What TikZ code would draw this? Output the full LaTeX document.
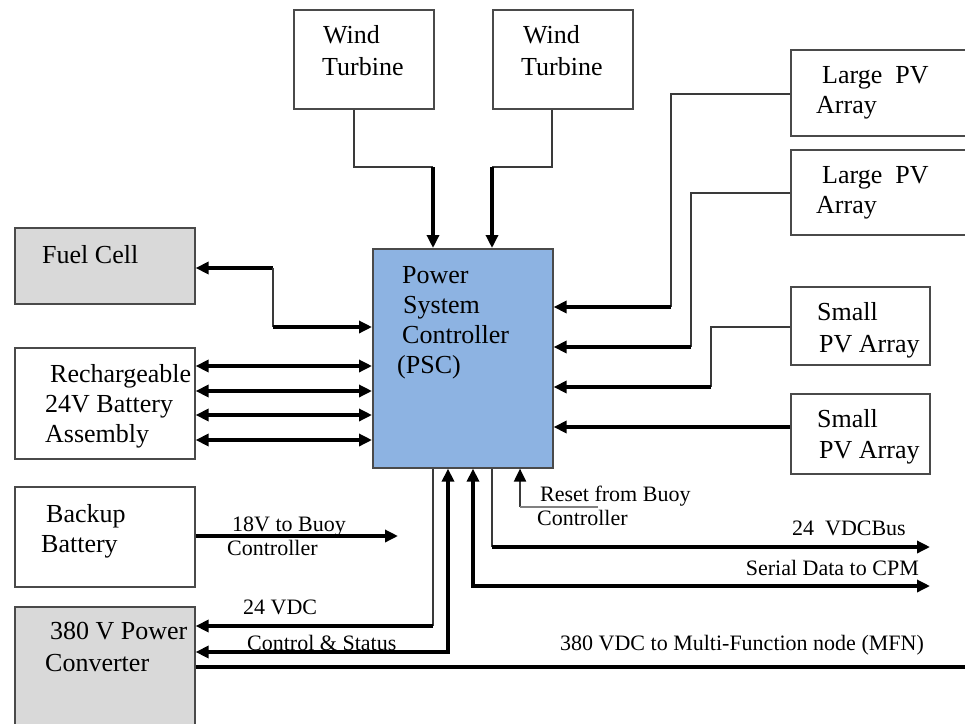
\documentclass[tikz,border=0pt]{standalone}
\usepackage{fontspec}
\setmainfont{Liberation Serif}
\usetikzlibrary{arrows.meta}
\definecolor{pscblue}{HTML}{8DB3E2}
\definecolor{greyfill}{HTML}{D9D9D9}
\definecolor{edgecol}{HTML}{4A4A4A}
\definecolor{wirecol}{HTML}{3A3A3A}
\begin{document}
\begin{tikzpicture}[x=1pt,y=-1pt,
  box/.style={draw=edgecol, line width=1.6pt, inner sep=0pt, anchor=north west},
  big/.style={anchor=base west, inner sep=0pt, font=\fontsize{26}{31}\selectfont},
  lab/.style={anchor=base west, inner sep=0pt, font=\fontsize{22}{25}\selectfont},
  thickln/.style={line width=3.4pt, black},
  thinln/.style={line width=2pt, wirecol},
  tip/.tip={Triangle[length=13pt,width=12pt,color=black]},
  arr/.style={thickln, -tip},
  arrb/.style={thickln, tip-tip},
  arrs/.style={thickln, tip-}]
\useasboundingbox (0,0) rectangle (965,723);
\clip (0,0) rectangle (965,723);
% boxes
\node[box, minimum width=140pt, minimum height=99pt] (wt1) at (293,9) {};
\node[box, minimum width=140pt, minimum height=99pt] (wt2) at (492,9) {};
\node[box, minimum width=200pt, minimum height=86pt] (lpv1) at (790,49) {};
\node[box, minimum width=200pt, minimum height=85pt] (lpv2) at (790,149) {};
\node[box, minimum width=139pt, minimum height=78pt] (spv1) at (790,286) {};
\node[box, minimum width=139pt, minimum height=80pt] (spv2) at (790,393) {};
\node[box, fill=pscblue, minimum width=180pt, minimum height=219pt] (psc) at (372,248) {};
\node[box, fill=greyfill, minimum width=180pt, minimum height=76pt] (fuel) at (14,227) {};
\node[box, minimum width=180pt, minimum height=111pt] (batt) at (14,347) {};
\node[box, minimum width=180pt, minimum height=100pt] (backup) at (14,486) {};
\node[box, fill=greyfill, minimum width=180pt, minimum height=140pt] (conv) at (14,606) {};
% box texts
\node[big] (wt1a) at (323,43) {Wind};
\node[big] (wt1b) at (322,75) {Turbine};
\node[big] (wt2a) at (523,43) {Wind};
\node[big] (wt2b) at (521,75) {Turbine};
\node[big] (lpv1a) at (822,83) {Large\ \ PV};
\node[big] (lpv1b) at (816,113) {Array};
\node[big] (lpv2a) at (822,183) {Large\ \ PV};
\node[big] (lpv2b) at (816,213) {Array};
\node[big] (spv1a) at (817,320) {Small};
\node[big] (spv1b) at (819,352) {PV Array};
\node[big] (spv2a) at (817,427) {Small};
\node[big] (spv2b) at (819,458) {PV Array};
\node[big] (psca) at (402,283) {Power};
\node[big] (pscb) at (403,313) {System};
\node[big] (pscc) at (402,343) {Controller};
\node[big] (pscd) at (397,373) {(PSC)};
\node[big] (fuela) at (42,263) {Fuel Cell};
\node[big] (batta) at (50,382) {Rechargeable};
\node[big] (battb) at (45,412) {24V Battery};
\node[big] (battc) at (45,442) {Assembly};
\node[big] (backa) at (46,522) {Backup};
\node[big] (backb) at (41,552) {Battery};
\node[big] (conva) at (50,639) {380 V Power};
\node[big] (convb) at (45,671) {Converter};
% connector bend points
\coordinate (c1) at (433,167);
\coordinate (c2) at (492,167);
\coordinate (c3) at (273,268);
\coordinate (c4) at (273,327);
\coordinate (p1) at (671,307);
\coordinate (p2) at (691,347);
\coordinate (p3) at (711,387);
\coordinate (c5) at (433,626);
\coordinate (c6) at (448,652);
\coordinate (c7) at (473,586);
\coordinate (e7) at (930,586);
\coordinate (c8) at (492,547);
\coordinate (e8) at (930,547);
\coordinate (c9) at (520,507);
\coordinate (e9) at (598,507);
\coordinate (e10) at (398,536);
\coordinate (e11) at (975,667);
% wind turbines
\draw[thinln] ([xshift=-10pt]wt1.south) |- (c1);
\draw[arr] (c1) -- (c1 |- psc.north);
\draw[thinln] ([xshift=-11pt]wt2.south) |- (c2);
\draw[arr] (c2) -- (c2 |- psc.north);
% fuel cell
\draw[arrs] (fuel.east |- c3) -- (c3);
\draw[thinln] (c3) -- (c4);
\draw[arr] (c4) -- (c4 -| psc.west);
% battery
\foreach \yy in {366,391,415,440}
  \draw[arrb] (batt.east |- 0,\yy) -- (psc.west |- 0,\yy);
% PV arrays
\draw[thinln] (lpv1.west |- 0,94) -| (p1);
\draw[arr] (p1) -- (p1 -| psc.east);
\draw[thinln] (lpv2.west |- 0,193) -| (p2);
\draw[arr] (p2) -- (p2 -| psc.east);
\draw[thinln] (spv1.west |- 0,327) -| (p3);
\draw[arr] (p3) -- (p3 -| psc.east);
\draw[arr] (spv2.west |- 0,427) -- (psc.east |- 0,427);
% bottom connectors
\draw[thinln] (psc.south -| c5) -- (c5);
\draw[arr] (c5) -- (conv.east |- c5);
\draw[arrb] (psc.south -| c6) |- (conv.east |- c6);
\draw[arrb] (psc.south -| c7) |- (e7);
\draw[thinln] (psc.south -| c8) -- (c8);
\draw[arr] (c8) -- (e8);
\draw[thinln, tip-] (psc.south -| c9) -- (c9);
\draw[line width=2pt, gray] (c9) -- (e9);
\draw[arr] (backup.east |- e10) -- (e10);
\draw[thickln] (conv.east |- e11) -- (e11);
% labels
\node[lab] (l18a) at (232,531) {18V to Buoy};
\node[lab] (l18b) at (227,555) {Controller};
\node[lab] (l24) at (243,614) {24 VDC};
\node[lab] (lcs) at (247,650) {Control \& Status};
\node[lab] (lra) at (540,501) {Reset from Buoy};
\node[lab] (lrb) at (537,525) {Controller};
\node[lab, anchor=base east] (lbus) at (906,535) {24\ \ VDCBus};
\node[lab, anchor=base east] (lser) at (919,575) {Serial Data to CPM};
\node[lab] (lmfn) at (560,650) {380 VDC to Multi-Function node (MFN)};
\end{tikzpicture}
\end{document}
